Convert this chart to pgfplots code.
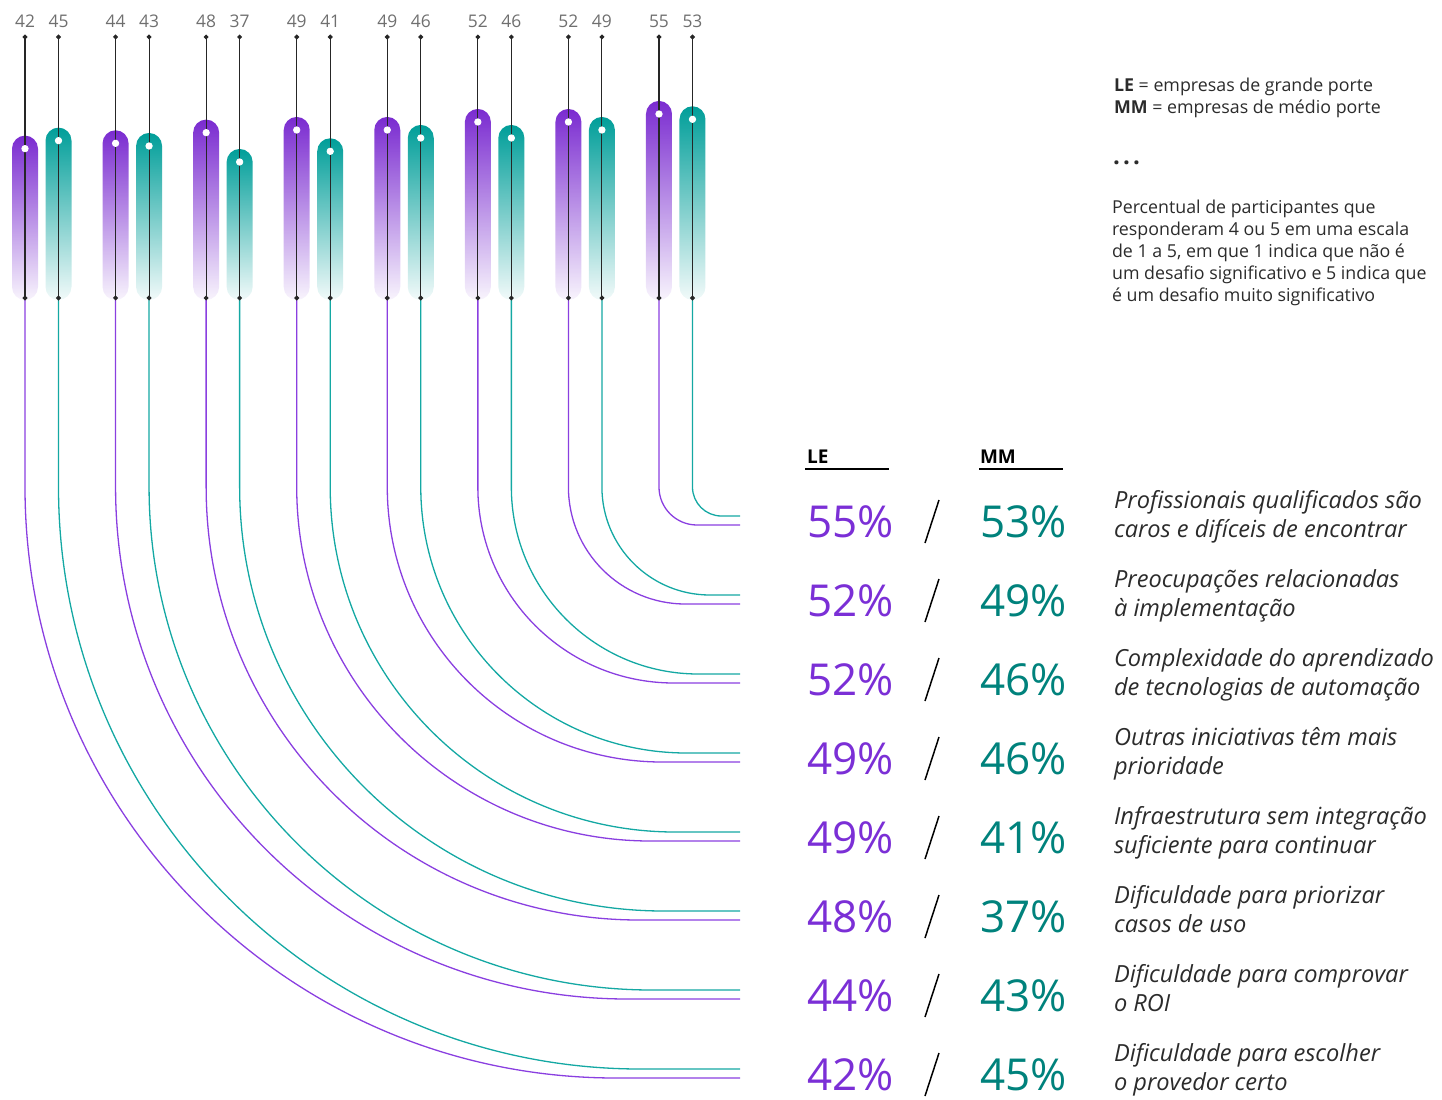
\documentclass[border=0pt]{standalone}
\usepackage{fontspec}
\setmainfont{Open Sans}
\usepackage{pgfplots}
\pgfplotsset{compat=1.18}
\usetikzlibrary{fadings}

\definecolor{lebar}{HTML}{7A2BD0}
\definecolor{mmbar}{HTML}{009E99}
\definecolor{letxt}{HTML}{7B2FD6}
\definecolor{mmtxt}{HTML}{00827C}
\definecolor{leln}{HTML}{8A3FE0}
\definecolor{mmln}{HTML}{14A8A3}
\definecolor{lbl}{HTML}{2B2B2B}
\definecolor{tick}{HTML}{6F6F6F}

\tikzfading[name=barfade, top color=transparent!0, middle color=transparent!45, bottom color=transparent!95]

% pair k, left to right: LE value / MM value (pair k is row 9-k on the right)
\newcommand\pairs{1/42/45, 2/44/43, 3/48/37, 4/49/41, 5/49/46, 6/52/46, 7/52/49, 8/55/53}

\tikzset{
  pctle/.style={anchor=base west, text=letxt, font=\fontsize{22}{22}\selectfont},
  pctmm/.style={anchor=base west, text=mmtxt, font=\fontsize{22}{22}\selectfont},
  lab/.style={anchor=base west, text=lbl, font=\fontsize{11.8}{13}\selectfont\itshape},
  toplab/.style={anchor=base, text=tick, font=\fontsize{8.7}{9}\selectfont},
  note/.style={anchor=base west, text=lbl, font=\fontsize{8.9}{10}\selectfont},
}

\begin{document}
\begin{tikzpicture}
% layer 1: pixel frame, connectors and text
\begin{axis}[name=A, at={(0,0)}, anchor=south west, scale only axis,
  width=721pt, height=549.5pt, hide axis, clip=false,
  xmin=0, xmax=1442, ymin=0, ymax=1099, y dir=reverse]
  \foreach \k/\le/\mm in \pairs {
    \pgfmathsetmacro\xl{25+(\k-1)*90.57}
    \pgfmathsetmacro\xm{\xl+33.5}
    \pgfmathsetmacro\ym{516+(8-\k)*79}
    \pgfmathsetmacro\yl{\ym+9}
    \pgfmathsetmacro\rl{\yl-487}
    \pgfmathsetmacro\rm{\ym-487}
    \edef\temp{
      \noexpand\draw[leln, line width=0.65pt] (axis cs:\xl,298) -- (axis cs:\xl,487)
        arc[start angle=180, end angle=270, radius=\rl*0.5pt] -- (axis cs:740,\yl);
      \noexpand\draw[mmln, line width=0.65pt] (axis cs:\xm,298) -- (axis cs:\xm,487)
        arc[start angle=180, end angle=270, radius=\rm*0.5pt] -- (axis cs:740,\ym);
      \noexpand\node[toplab] at (axis cs:\xl,27) {\le};
      \noexpand\node[toplab] at (axis cs:\xm,27) {\mm};
    }
    \temp
  }
  % right hand rows, top to bottom
  \foreach \i/\le/\mm/\la/\lb in {
    1/55/53/Profissionais qualificados são/caros e difíceis de encontrar,
    2/52/49/Preocupações relacionadas/à implementação,
    3/52/46/Complexidade do aprendizado/de tecnologias de automação,
    4/49/46/Outras iniciativas têm mais/prioridade,
    5/49/41/Infraestrutura sem integração/suficiente para continuar,
    6/48/37/Dificuldade para priorizar/casos de uso,
    7/44/43/Dificuldade para comprovar/o ROI,
    8/42/45/Dificuldade para escolher/o provedor certo} {
    \pgfmathsetmacro\yb{537+(\i-1)*79}
    \pgfmathsetmacro\ya{\yb-29}
    \pgfmathsetmacro\ys{\yb+6}
    \pgfmathsetmacro\yt{\yb-37}
    \edef\temp{
      \noexpand\node[pctle] at (axis cs:800,\yb) {\le\noexpand\%};
      \noexpand\draw[black, line width=0.75pt] (axis cs:925,\ys) -- (axis cs:939,\yt);
      \noexpand\node[pctmm] at (axis cs:973,\yb) {\mm\noexpand\%};
      \noexpand\node[lab] at (axis cs:1107,\ya) {\la};
      \noexpand\node[lab] at (axis cs:1107,\yb) {\lb};
    }
    \temp
  }
  \node[anchor=base west, font=\fontsize{9.5}{10}\selectfont\bfseries] at (axis cs:800,463) {LE};
  \node[anchor=base west, font=\fontsize{9.5}{10}\selectfont\bfseries] at (axis cs:973,463) {MM};
  \draw[black, line width=0.7pt] (axis cs:805,469) -- (axis cs:889,469);
  \draw[black, line width=0.7pt] (axis cs:979,469) -- (axis cs:1063,469);

  \node[note] at (axis cs:1107,91) {\textbf{LE} = empresas de grande porte};
  \node[note] at (axis cs:1107,113) {\textbf{MM} = empresas de médio porte};
  \node[note, font=\fontsize{12}{12}\selectfont\bfseries] at (axis cs:1106,164) {.\hspace{1.6pt}.\hspace{1.6pt}.};
  \node[note] at (axis cs:1105,213) {Percentual de participantes que};
  \node[note] at (axis cs:1105,235) {responderam 4 ou 5 em uma escala};
  \node[note] at (axis cs:1105,257) {de 1 a 5, em que 1 indica que não é};
  \node[note] at (axis cs:1105,279) {um desafio significativo e 5 indica que};
  \node[note] at (axis cs:1105,301) {é um desafio muito significativo};
\end{axis}

% layer 2: bars in value units (pixel y = 114 + (55 - v) * 8/3)
\begin{axis}[at={(0,0)}, anchor=south west, scale only axis,
  width=721pt, height=549.5pt, hide axis, clip=false,
  xmin=0, xmax=1442, ymin=-314.375, ymax=97.75]
  \foreach \k/\le/\mm in \pairs {
    \pgfmathsetmacro\xl{25+(\k-1)*90.57}
    \pgfmathsetmacro\xm{\xl+33.5}
    \pgfmathsetmacro\xla{\xl-13}
    \pgfmathsetmacro\xlb{\xl+13}
    \pgfmathsetmacro\xma{\xm-13}
    \pgfmathsetmacro\xmb{\xm+13}
    \pgfmathsetmacro\tl{\le+4.875}
    \pgfmathsetmacro\tm{\mm+4.875}
    \edef\temp{
      \noexpand\fill[lebar, path fading=barfade, rounded corners=6.5pt]
        (axis cs:\xla,\tl) rectangle (axis cs:\xlb,-14.75);
      \noexpand\fill[mmbar, path fading=barfade, rounded corners=6.5pt]
        (axis cs:\xma,\tm) rectangle (axis cs:\xmb,-14.75);
      \noexpand\addplot[black!85, line width=0.55pt, mark=*, mark size=0.9pt]
        coordinates {(\xl,83.875) (\xl,-14)};
      \noexpand\addplot[black!85, line width=0.55pt, mark=*, mark size=0.9pt]
        coordinates {(\xm,83.875) (\xm,-14)};
      \noexpand\addplot[only marks, mark=*, mark size=1.6pt, draw=white, fill=white]
        coordinates {(\xl,\le) (\xm,\mm)};
    }
    \temp
  }
\end{axis}
\pgfresetboundingbox
\path (A.south west) rectangle (A.north east);
\end{tikzpicture}
\end{document}
